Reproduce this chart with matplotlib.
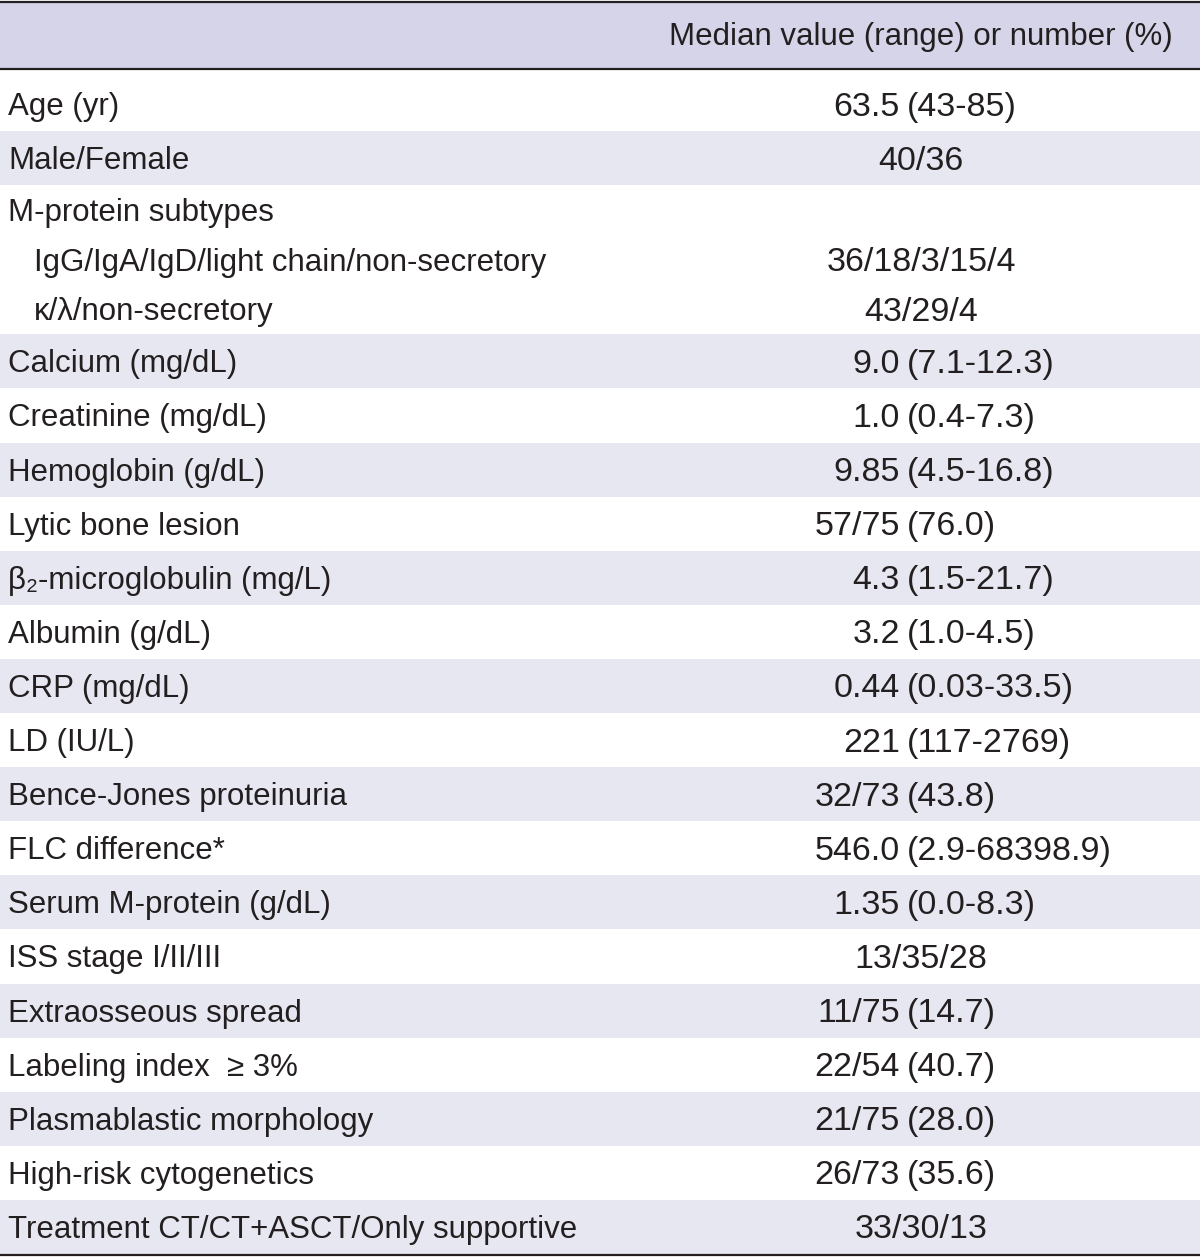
import matplotlib
matplotlib.use("Agg")
import matplotlib.pyplot as plt
from matplotlib.patches import Rectangle

header = "Median value (range) or number (%)"

characteristics = [
    ["Age (yr)"],
    ["Male/Female"],
    ["M-protein subtypes", "IgG/IgA/IgD/light chain/non-secretory", "κ/λ/non-secretory"],
    ["Calcium (mg/dL)"],
    ["Creatinine (mg/dL)"],
    ["Hemoglobin (g/dL)"],
    ["Lytic bone lesion"],
    ["β₂-microglobulin (mg/L)"],
    ["Albumin (g/dL)"],
    ["CRP (mg/dL)"],
    ["LD (IU/L)"],
    ["Bence-Jones proteinuria"],
    ["FLC difference*"],
    ["Serum M-protein (g/dL)"],
    ["ISS stage I/II/III"],
    ["Extraosseous spread"],
    ["Labeling index  ≥ 3%"],
    ["Plasmablastic morphology"],
    ["High-risk cytogenetics"],
    ["Treatment CT/CT+ASCT/Only supportive"],
]

values = [
    ["63.5 (43-85)"],
    ["40/36"],
    ["", "36/18/3/15/4", "43/29/4"],
    ["9.0 (7.1-12.3)"],
    ["1.0 (0.4-7.3)"],
    ["9.85 (4.5-16.8)"],
    ["57/75 (76.0)"],
    ["4.3 (1.5-21.7)"],
    ["3.2 (1.0-4.5)"],
    ["0.44 (0.03-33.5)"],
    ["221 (117-2769)"],
    ["32/73 (43.8)"],
    ["546.0 (2.9-68398.9)"],
    ["1.35 (0.0-8.3)"],
    ["13/35/28"],
    ["11/75 (14.7)"],
    ["22/54 (40.7)"],
    ["21/75 (28.0)"],
    ["26/73 (35.6)"],
    ["33/30/13"],
]

W, H = 1200, 1259
fig = plt.figure(figsize=(W / 100, H / 100), dpi=100)
ax = fig.add_axes([0, 0, 1, 1])
ax.set_xlim(0, W)
ax.set_ylim(H, 0)
ax.axis("off")

FONT = ["Liberation Sans", "DejaVu Sans"]
FS = 22.5
FSV = 24.5
TXT = "#231f20"
HEAD_BG = "#d5d4e8"
SHADE_BG = "#e7e7f2"
LINE_H = 49.7
ROW_H = 54.1

col_center = 921
split_x = 907
label_x = 8
indent_x = 34

# header
ax.add_patch(Rectangle((0, 2), W, 66, color=HEAD_BG, lw=0))
ax.text(col_center, 37, header, ha="center", va="center", fontsize=FS,
        family=FONT, color=TXT)

y = 69
for i, (labs, vals) in enumerate(zip(characteristics, values)):
    n = len(labs)
    if n == 1:
        h = ROW_H + (8 if i == 0 else 0)
    else:
        h = LINE_H * n
    if i % 2 == 1:
        ax.add_patch(Rectangle((0, y), W, h, color=SHADE_BG, lw=0))
    top = y + (8 if i == 0 else 0)
    lh = (h - (8 if i == 0 else 0)) / n
    for j, (lab, val) in enumerate(zip(labs, vals)):
        yc = top + lh * (j + 0.5) + 3
        x = indent_x if j > 0 else label_x
        ax.text(x, yc, lab, ha="left", va="center", fontsize=FS,
                family=FONT, color=TXT)
        if not val:
            continue
        if " (" in val:
            head, tail = val.split(" (", 1)
            ax.text(split_x - 7, yc, head, ha="right", va="center",
                    fontsize=FSV, family=FONT, color=TXT)
            ax.text(split_x, yc, "(" + tail, ha="left", va="center",
                    fontsize=FSV, family=FONT, color=TXT)
        else:
            ax.text(col_center, yc, val, ha="center", va="center",
                    fontsize=FSV, family=FONT, color=TXT)
    y += h

# rules
ax.plot([0, W], [1.5, 1.5], color=TXT, lw=1.6, solid_capstyle="butt")
ax.plot([0, W], [68.5, 68.5], color=TXT, lw=1.6, solid_capstyle="butt")
ax.plot([0, W], [y + 1.5, y + 1.5], color=TXT, lw=1.6, solid_capstyle="butt")

fig.savefig("out.png", dpi=100)
